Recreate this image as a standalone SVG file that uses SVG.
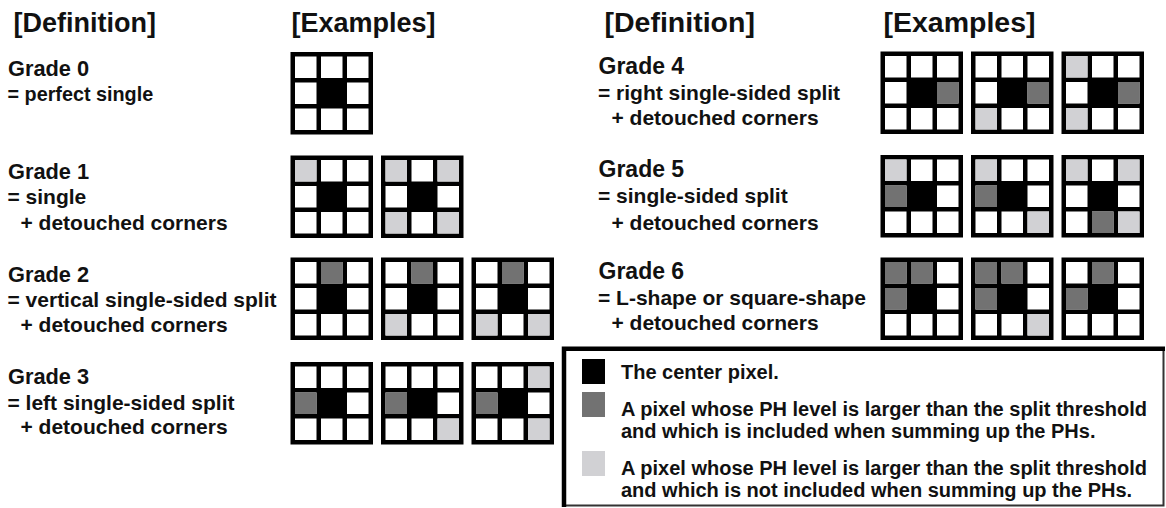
<svg xmlns="http://www.w3.org/2000/svg" xmlns:xlink="http://www.w3.org/1999/xlink" width="1166" height="508" viewBox="0 0 1166 508">
<style>
text{font-family:"Liberation Sans",Arial,sans-serif;font-weight:bold;fill:#111}
.h{font-size:28.5px}
.hl{font-size:27px}
.g{font-size:23px}
.gl{font-size:21.8px}
.d{font-size:21px}
.l{font-size:20px}
.w{fill:#fff}
.dk{fill:#727272}
.lt{fill:#d1d1d4}
</style>
<defs>
<g id="grid">
<rect width="82.5" height="82.5" fill="#000"/>
<rect class="w" x="4.5" y="4.5" width="21.5" height="21.5"/>
<rect class="w" x="30.5" y="4.5" width="21.5" height="21.5"/>
<rect class="w" x="56.5" y="4.5" width="21.5" height="21.5"/>
<rect class="w" x="4.5" y="30.5" width="21.5" height="21.5"/>
<rect class="w" x="56.5" y="30.5" width="21.5" height="21.5"/>
<rect class="w" x="4.5" y="56.5" width="21.5" height="21.5"/>
<rect class="w" x="30.5" y="56.5" width="21.5" height="21.5"/>
<rect class="w" x="56.5" y="56.5" width="21.5" height="21.5"/>
</g>
</defs>
<rect width="1166" height="508" fill="#fff"/>

<g id="headers">
<text class="hl" x="13.5" y="32">[Definition]</text>
<text class="hl" x="291.5" y="32">[Examples]</text>
<text class="h" x="604.5" y="32">[Definition]</text>
<text class="h" x="883.5" y="32">[Examples]</text>
</g>

<g id="grade0">
<text class="gl" x="8" y="75.5">Grade 0</text>
<text class="d" x="7.5" y="100.5" style="font-size:19.8px">= perfect single</text>
<g transform="translate(290.5,52)"><use xlink:href="#grid" href="#grid"/></g>
</g>

<g id="grade1">
<text class="gl" x="8" y="178.5">Grade 1</text>
<text class="d" x="7.5" y="204">= single</text>
<text class="d" x="20.5" y="229.5">+ detouched corners</text>
<g transform="translate(290.5,155.5)"><use xlink:href="#grid" href="#grid"/>
<rect class="lt" x="4.5" y="4.5" width="21.5" height="21.5"/></g>
<g transform="translate(381,155.5)"><use xlink:href="#grid" href="#grid"/>
<rect class="lt" x="4.5" y="4.5" width="21.5" height="21.5"/>
<rect class="lt" x="56.5" y="4.5" width="21.5" height="21.5"/>
<rect class="lt" x="4.5" y="56.5" width="21.5" height="21.5"/>
<rect class="lt" x="56.5" y="56.5" width="21.5" height="21.5"/></g>
</g>

<g id="grade2">
<text class="gl" x="8" y="281.5">Grade 2</text>
<text class="d" x="7.5" y="307">= vertical single-sided split</text>
<text class="d" x="20.5" y="332">+ detouched corners</text>
<g transform="translate(290.5,257.5)"><use xlink:href="#grid" href="#grid"/>
<rect class="dk" x="30.5" y="4.5" width="21.5" height="21.5"/></g>
<g transform="translate(381,257.5)"><use xlink:href="#grid" href="#grid"/>
<rect class="dk" x="30.5" y="4.5" width="21.5" height="21.5"/>
<rect class="lt" x="4.5" y="56.5" width="21.5" height="21.5"/></g>
<g transform="translate(471.5,257.5)"><use xlink:href="#grid" href="#grid"/>
<rect class="dk" x="30.5" y="4.5" width="21.5" height="21.5"/>
<rect class="lt" x="4.5" y="56.5" width="21.5" height="21.5"/>
<rect class="lt" x="56.5" y="56.5" width="21.5" height="21.5"/></g>
</g>

<g id="grade3">
<text class="gl" x="8" y="384">Grade 3</text>
<text class="d" x="7.5" y="409.5">= left single-sided split</text>
<text class="d" x="20.5" y="434">+ detouched corners</text>
<g transform="translate(290.5,362)"><use xlink:href="#grid" href="#grid"/>
<rect class="dk" x="4.5" y="30.5" width="21.5" height="21.5"/></g>
<g transform="translate(381,362)"><use xlink:href="#grid" href="#grid"/>
<rect class="dk" x="4.5" y="30.5" width="21.5" height="21.5"/>
<rect class="lt" x="56.5" y="56.5" width="21.5" height="21.5"/></g>
<g transform="translate(471.5,362)"><use xlink:href="#grid" href="#grid"/>
<rect class="dk" x="4.5" y="30.5" width="21.5" height="21.5"/>
<rect class="lt" x="56.5" y="4.5" width="21.5" height="21.5"/>
<rect class="lt" x="56.5" y="56.5" width="21.5" height="21.5"/></g>
</g>

<g id="grade4">
<text class="g" x="598.5" y="74">Grade 4</text>
<text class="d" x="598" y="100">= right single-sided split</text>
<text class="d" x="611.5" y="125">+ detouched corners</text>
<g transform="translate(880.5,51.5)"><use xlink:href="#grid" href="#grid"/>
<rect class="dk" x="56.5" y="30.5" width="21.5" height="21.5"/></g>
<g transform="translate(971,51.5)"><use xlink:href="#grid" href="#grid"/>
<rect class="dk" x="56.5" y="30.5" width="21.5" height="21.5"/>
<rect class="lt" x="4.5" y="56.5" width="21.5" height="21.5"/></g>
<g transform="translate(1061.5,51.5)"><use xlink:href="#grid" href="#grid"/>
<rect class="dk" x="56.5" y="30.5" width="21.5" height="21.5"/>
<rect class="lt" x="4.5" y="4.5" width="21.5" height="21.5"/>
<rect class="lt" x="4.5" y="56.5" width="21.5" height="21.5"/></g>
</g>

<g id="grade5">
<text class="g" x="598.5" y="176.5">Grade 5</text>
<text class="d" x="598" y="203">= single-sided split</text>
<text class="d" x="611.5" y="229.5">+ detouched corners</text>
<g transform="translate(880.5,155)"><use xlink:href="#grid" href="#grid"/>
<rect class="lt" x="4.5" y="4.5" width="21.5" height="21.5"/>
<rect class="dk" x="4.5" y="30.5" width="21.5" height="21.5"/></g>
<g transform="translate(971,155)"><use xlink:href="#grid" href="#grid"/>
<rect class="lt" x="4.5" y="4.5" width="21.5" height="21.5"/>
<rect class="dk" x="4.5" y="30.5" width="21.5" height="21.5"/>
<rect class="lt" x="56.5" y="56.5" width="21.5" height="21.5"/></g>
<g transform="translate(1061.5,155)"><use xlink:href="#grid" href="#grid"/>
<rect class="lt" x="4.5" y="4.5" width="21.5" height="21.5"/>
<rect class="lt" x="56.5" y="4.5" width="21.5" height="21.5"/>
<rect class="dk" x="30.5" y="56.5" width="21.5" height="21.5"/>
<rect class="lt" x="56.5" y="56.5" width="21.5" height="21.5"/></g>
</g>

<g id="grade6">
<text class="g" x="598.5" y="278.5">Grade 6</text>
<text class="d" x="598" y="305">= L-shape or square-shape</text>
<text class="d" x="611.5" y="330">+ detouched corners</text>
<g transform="translate(880.5,257.5)"><use xlink:href="#grid" href="#grid"/>
<rect class="dk" x="4.5" y="4.5" width="21.5" height="21.5"/>
<rect class="dk" x="30.5" y="4.5" width="21.5" height="21.5"/>
<rect class="dk" x="4.5" y="30.5" width="21.5" height="21.5"/></g>
<g transform="translate(971,257.5)"><use xlink:href="#grid" href="#grid"/>
<rect class="dk" x="4.5" y="4.5" width="21.5" height="21.5"/>
<rect class="dk" x="30.5" y="4.5" width="21.5" height="21.5"/>
<rect class="dk" x="4.5" y="30.5" width="21.5" height="21.5"/>
<rect class="lt" x="56.5" y="56.5" width="21.5" height="21.5"/></g>
<g transform="translate(1061.5,257.5)"><use xlink:href="#grid" href="#grid"/>
<rect class="dk" x="30.5" y="4.5" width="21.5" height="21.5"/>
<rect class="dk" x="4.5" y="30.5" width="21.5" height="21.5"/></g>
</g>

<g id="legend">
<path d="M1163.5,349 V505.5 H565" fill="none" stroke="#333" stroke-width="2"/>
<path d="M564,507 V348.7 H1165" fill="none" stroke="#000" stroke-width="4.5"/>
<rect x="582" y="359" width="23" height="25" fill="#000"/>
<rect class="dk" x="582" y="392" width="23" height="25"/>
<rect class="lt" x="582" y="451" width="23" height="25"/>
<text class="l" x="621" y="379">The center pixel.</text>
<text class="l" x="621" y="416">A pixel whose PH level is larger than the split threshold</text>
<text class="l" x="621" y="438">and which is included when summing up the PHs.</text>
<text class="l" x="621" y="475">A pixel whose PH level is larger than the split threshold</text>
<text class="l" x="621" y="497">and which is not included when summing up the PHs.</text>
</g>
</svg>
